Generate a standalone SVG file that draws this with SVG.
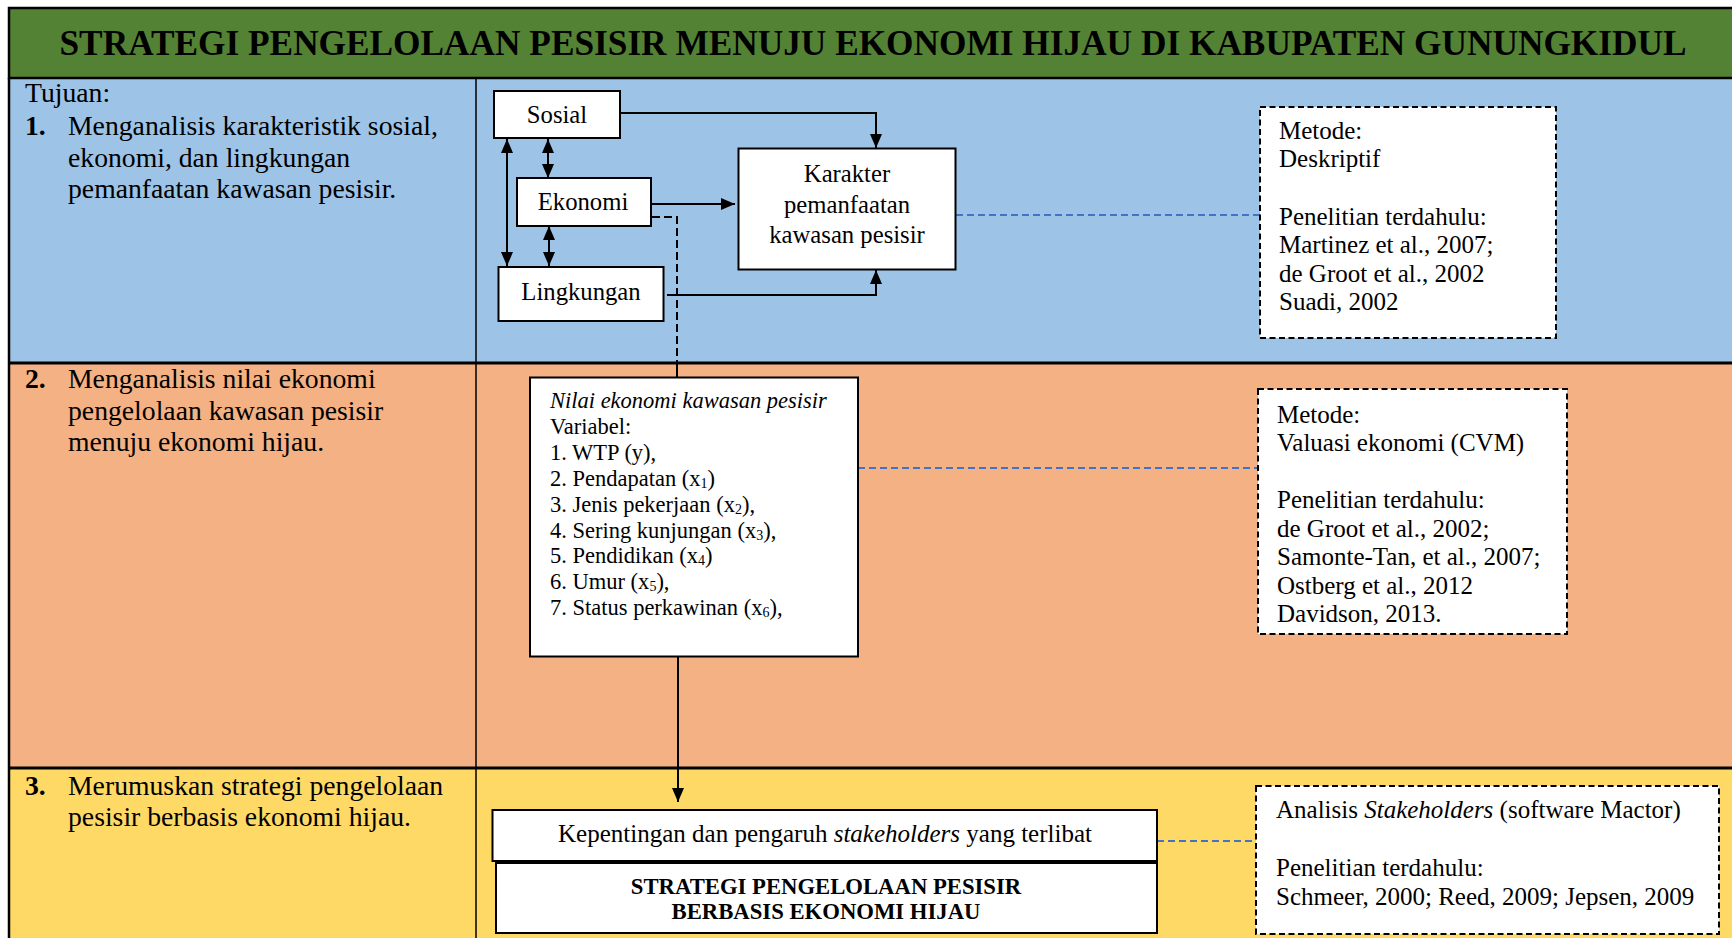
<svg xmlns="http://www.w3.org/2000/svg" width="1732" height="938" viewBox="0 0 1732 938">
<style>
text { font-family: "Liberation Serif", "Times New Roman", serif; fill: #000; }
.left { font-size: 27.7px; }
.mid { font-size: 24.7px; }
.met { font-size: 25px; }
.nil { font-size: 22.5px; }
.box { fill: #fff; stroke: #000; stroke-width: 2; }
.dbox { fill: #fff; stroke: #000; stroke-width: 2; stroke-dasharray: 6 3.5; }
.conn { fill: none; stroke: #000; stroke-width: 2; }
.bdash { fill: none; stroke: #4472C4; stroke-width: 2; stroke-dasharray: 7 4; }
.kdash { fill: none; stroke: #000; stroke-width: 2; stroke-dasharray: 8 4; }
.sub { font-size: 14px; }
</style>
<defs>
<marker id="ah" viewBox="0 0 14 12" refX="14" refY="6" markerWidth="14" markerHeight="12" markerUnits="userSpaceOnUse" orient="auto-start-reverse">
<path d="M0,0 L14,6 L0,12 z" fill="#000"/>
</marker>
</defs>

<g id="background">
<rect x="9" y="78" width="1725" height="285" fill="#9DC3E6"/>
<rect x="9" y="363" width="1725" height="405" fill="#F4B183"/>
<rect x="9" y="768" width="1725" height="172" fill="#FFD966"/>
<rect x="9" y="8" width="1725" height="70" fill="#548235" stroke="#000" stroke-width="2.5"/>
<line x1="9" y1="78" x2="9" y2="940" stroke="#000" stroke-width="2.5"/>
<line x1="476" y1="78" x2="476" y2="940" stroke="#000" stroke-width="1.5"/>
<line x1="9" y1="363" x2="1734" y2="363" stroke="#000" stroke-width="3"/>
<line x1="9" y1="768" x2="1734" y2="768" stroke="#000" stroke-width="3"/>
</g>

<g id="title">
<text x="873" y="55" font-size="35" font-weight="bold" text-anchor="middle" textLength="1627" lengthAdjust="spacingAndGlyphs">STRATEGI PENGELOLAAN PESISIR MENUJU EKONOMI HIJAU DI KABUPATEN GUNUNGKIDUL</text>
</g>

<g id="tujuan1">
<text class="left" x="25" y="102">Tujuan:</text>
<text class="left" x="25" y="135" font-weight="bold">1.</text>
<text class="left" x="68" y="135">Menganalisis karakteristik sosial,</text>
<text class="left" x="68" y="166.5">ekonomi, dan lingkungan</text>
<text class="left" x="68" y="198">pemanfaatan kawasan pesisir.</text>
</g>
<g id="tujuan2">
<text class="left" x="25" y="388" font-weight="bold">2.</text>
<text class="left" x="68" y="388">Menganalisis nilai ekonomi</text>
<text class="left" x="68" y="420">pengelolaan kawasan pesisir</text>
<text class="left" x="68" y="451">menuju ekonomi hijau.</text>
</g>
<g id="tujuan3">
<text class="left" x="25" y="795" font-weight="bold">3.</text>
<text class="left" x="68" y="795">Merumuskan strategi pengelolaan</text>
<text class="left" x="68" y="826">pesisir berbasis ekonomi hijau.</text>
</g>

<g id="connectors">
<polyline class="conn" points="621,113 876,113 876,148" marker-end="url(#ah)"/>
<polyline class="conn" points="667,295 876,295 876,270" marker-end="url(#ah)"/>
<line class="conn" x1="651" y1="204" x2="735" y2="204" marker-end="url(#ah)"/>
<line class="conn" x1="507" y1="139" x2="507" y2="266" marker-start="url(#ah)" marker-end="url(#ah)"/>
<line class="conn" x1="548" y1="139" x2="548" y2="178" marker-start="url(#ah)" marker-end="url(#ah)"/>
<line class="conn" x1="549" y1="226" x2="549" y2="266" marker-start="url(#ah)" marker-end="url(#ah)"/>
<polyline class="kdash" points="652,217 677,217 677,363"/>
<line class="conn" x1="677" y1="363" x2="677" y2="378"/>
<line class="conn" x1="678" y1="657" x2="678" y2="802" marker-end="url(#ah)"/>
<line class="bdash" x1="956" y1="215" x2="1260" y2="215"/>
<line class="bdash" x1="858" y1="468" x2="1258" y2="468"/>
<line class="bdash" x1="1157" y1="841" x2="1256" y2="841"/>
</g>

<g id="sosial">
<rect class="box" x="494" y="91" width="126" height="47"/>
<text class="mid" x="557" y="123" text-anchor="middle">Sosial</text>
</g>
<g id="ekonomi">
<rect class="box" x="517" y="178" width="134" height="48"/>
<text class="mid" x="583" y="210" text-anchor="middle">Ekonomi</text>
</g>
<g id="lingkungan">
<rect class="box" x="498.5" y="267" width="165" height="54"/>
<text class="mid" x="581" y="300" text-anchor="middle">Lingkungan</text>
</g>
<g id="karakter">
<rect class="box" x="738.5" y="148.5" width="217" height="121"/>
<text class="mid" x="847" y="182" text-anchor="middle">Karakter</text>
<text class="mid" x="847" y="213" text-anchor="middle">pemanfaatan</text>
<text class="mid" x="847" y="243" text-anchor="middle">kawasan pesisir</text>
</g>
<g id="metode1">
<rect class="dbox" x="1260" y="107" width="296" height="231"/>
<text class="met" x="1279" y="138.5">Metode:</text>
<text class="met" x="1279" y="167">Deskriptif</text>
<text class="met" x="1279" y="224.5">Penelitian terdahulu:</text>
<text class="met" x="1279" y="253">Martinez et al., 2007;</text>
<text class="met" x="1279" y="281.5">de Groot et al., 2002</text>
<text class="met" x="1279" y="310">Suadi, 2002</text>
</g>

<g id="nilai">
<rect class="box" x="530" y="377.5" width="328" height="279"/>
<text class="nil" x="550" y="408" font-style="italic">Nilai ekonomi kawasan pesisir</text>
<text class="nil" x="550" y="434">Variabel:</text>
<text class="nil" x="550" y="460">1. WTP (y),</text>
<text class="nil" x="550" y="486">2. Pendapatan (x<tspan class="sub" dy="2">1</tspan><tspan dy="-2">)</tspan></text>
<text class="nil" x="550" y="512">3. Jenis pekerjaan (x<tspan class="sub" dy="2">2</tspan><tspan dy="-2">),</tspan></text>
<text class="nil" x="550" y="537.5">4. Sering kunjungan (x<tspan class="sub" dy="2">3</tspan><tspan dy="-2">),</tspan></text>
<text class="nil" x="550" y="563">5. Pendidikan (x<tspan class="sub" dy="2">4</tspan><tspan dy="-2">)</tspan></text>
<text class="nil" x="550" y="589">6. Umur (x<tspan class="sub" dy="2">5</tspan><tspan dy="-2">),</tspan></text>
<text class="nil" x="550" y="615">7. Status perkawinan (x<tspan class="sub" dy="2">6</tspan><tspan dy="-2">),</tspan></text>
</g>
<g id="metode2">
<rect class="dbox" x="1258" y="389" width="309" height="245"/>
<text class="met" x="1277" y="422.5">Metode:</text>
<text class="met" x="1277" y="451">Valuasi ekonomi (CVM)</text>
<text class="met" x="1277" y="508">Penelitian terdahulu:</text>
<text class="met" x="1277" y="536.5">de Groot et al., 2002;</text>
<text class="met" x="1277" y="565">Samonte-Tan, et al., 2007;</text>
<text class="met" x="1277" y="593.5">Ostberg et al., 2012</text>
<text class="met" x="1277" y="622">Davidson, 2013.</text>
</g>

<g id="kepentingan">
<rect class="box" x="492.5" y="810" width="664.5" height="51"/>
<text x="825" y="842" font-size="25" text-anchor="middle">Kepentingan dan pengaruh <tspan font-style="italic">stakeholders</tspan> yang terlibat</text>
</g>
<g id="strategi">
<rect class="box" x="496" y="863" width="661" height="70"/>
<text x="826" y="894" font-size="22.7" font-weight="bold" text-anchor="middle">STRATEGI PENGELOLAAN PESISIR</text>
<text x="826" y="919" font-size="22.7" font-weight="bold" text-anchor="middle">BERBASIS EKONOMI HIJAU</text>
</g>
<g id="analisis">
<rect class="dbox" x="1256" y="786" width="463" height="148"/>
<text class="met" x="1276" y="818">Analisis <tspan font-style="italic">Stakeholders</tspan> (software Mactor)</text>
<text class="met" x="1276" y="876">Penelitian terdahulu:</text>
<text class="met" x="1276" y="905">Schmeer, 2000; Reed, 2009; Jepsen, 2009</text>
</g>
</svg>
